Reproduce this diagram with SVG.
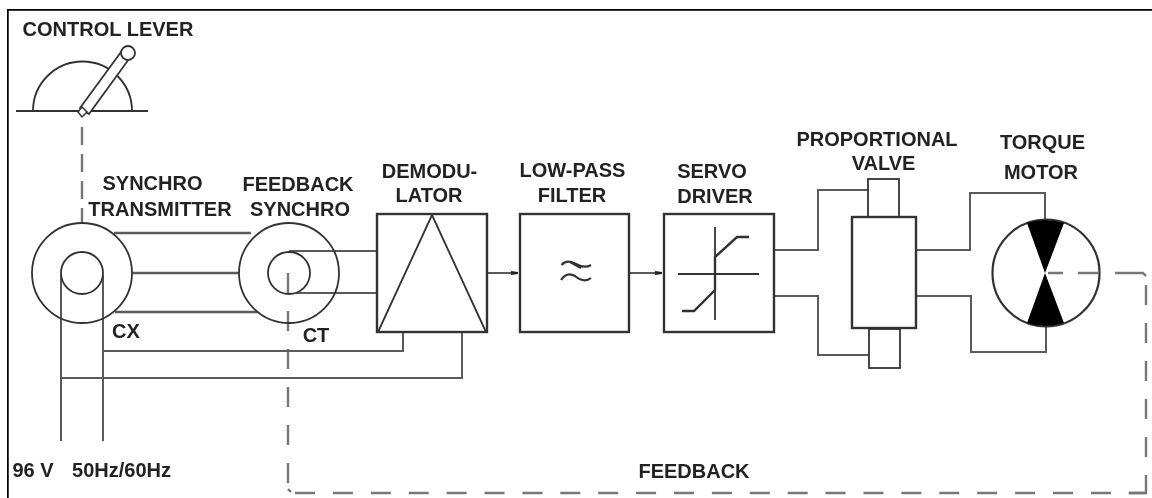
<svg xmlns="http://www.w3.org/2000/svg" width="1152" height="498" viewBox="0 0 1152 498">
<style>
text{font-family:"Liberation Sans",Arial,sans-serif;font-weight:700;font-size:20px;fill:#222;text-anchor:middle}
.s{fill:none;stroke:#333;stroke-width:1.8}
.w{fill:none;stroke:#5a5a5a;stroke-width:2}
.t{fill:none;stroke:#5a5a5a;stroke-width:2.600}
.b{fill:#fff;stroke:#333;stroke-width:2.400}
.d{fill:none;stroke:#777;stroke-width:2.400}
</style>
<defs>
<filter id="soft" x="0" y="0" width="100%" height="100%"><feGaussianBlur stdDeviation="0.700"/></filter>
<marker id="dot" markerWidth="8" markerHeight="6" refX="7" refY="3" orient="auto" markerUnits="userSpaceOnUse"><path d="M0 1L7 2V4L0 5Z" fill="#222"/></marker>
</defs>
<rect width="1152" height="498" fill="#fff"/>
<g filter="url(#soft)">
<path d="M7.500 498V9.500H1152" fill="none" stroke="#000" stroke-width="2.500"/>
<g id="connectors">
<path class="d" stroke-dasharray="18 9" d="M82 127V222"/>
<path class="d" stroke-dasharray="20 18" d="M288 273V483"/>
<path class="d" d="M288 489L291 492"/>
<path class="d" stroke-dasharray="20 17.900" d="M295 493H1146"/>
<path class="d" d="M1128.800 493H1146V475"/>
<path class="d" stroke-dasharray="20 18" d="M1146 457V275"/>
<path class="d" d="M1146 276L1143 273H1115M1098 273H1078M1063 273H1048"/>
<path class="t" d="M114 233H251M132 273H239M115 312H258"/>
<path class="w" d="M61 275V441M103 275V441M103 351H403V332M61 378H462V332"/>
<path class="w" d="M289 251H378M296 293H378"/>
<path class="w" d="M486 273H518" marker-end="url(#dot)"/>
<path class="w" d="M630 273H662" marker-end="url(#dot)"/>
<path class="w" d="M774 250H818V190H868M774 296H818V355H869M916 250H970V193H1045V222M916 296H971V352H1046V325"/>
</g>
<g id="lever">
<path class="s" d="M33 111A49.500 49.500 0 0 1 132 111M16 111H148"/>
<path d="M80 108L121 52L129 59L89 114Z" fill="#fff" stroke="#333" stroke-width="1.800"/>
<circle cx="128" cy="53" r="7" fill="#fff" stroke="#333" stroke-width="1.800"/>
<path d="M82 107L87 112L82 117L78 112Z" fill="#fff" stroke="#333" stroke-width="1.500"/>
<text x="108" y="36">CONTROL LEVER</text>
</g>
<g id="synchro-transmitter">
<circle class="s" cx="82" cy="273" r="50"/>
<circle class="s" cx="82" cy="273" r="21"/>
<text x="152.500" y="190">SYNCHRO</text><text x="160" y="216">TRANSMITTER</text>
<text x="126" y="338">CX</text>
</g>
<g id="feedback-synchro">
<circle class="s" cx="289" cy="273" r="50"/>
<circle class="s" cx="289" cy="273" r="21"/>
<text x="298" y="191">FEEDBACK</text><text x="300" y="216">SYNCHRO</text>
<text x="316" y="342">CT</text>
</g>
<g id="demodulator">
<rect class="b" x="377" y="214" width="110" height="118"/>
<path class="s" d="M378 332L432 215L486 332"/>
<text x="429.500" y="178">DEMODU-</text><text x="429" y="202">LATOR</text>
</g>
<g id="low-pass-filter">
<rect class="b" x="520" y="214" width="109" height="118"/>
<path d="M561.500 265C565 261 570 261 575 263.500C581 267 586 268 591 265M561 280C565 274 570 273 575 276C581 281 586 282 591 278M570 262L581 268" fill="none" stroke="#333" stroke-width="2.200"/>
<text x="572.500" y="177">LOW-PASS</text><text x="572" y="202">FILTER</text>
</g>
<g id="servo-driver">
<rect class="b" x="664" y="214" width="110" height="118"/>
<path class="s" d="M678 274H759M715 227V320"/>
<path d="M682 311H694L715 290V257L737 237H749" fill="none" stroke="#333" stroke-width="2.400"/>
<text x="712" y="178">SERVO</text><text x="715" y="203">DRIVER</text>
</g>
<g id="proportional-valve">
<rect class="s" x="868" y="179" width="31" height="38"/>
<rect class="s" x="869" y="329" width="31" height="39"/>
<rect class="b" x="852" y="217" width="64" height="111"/>
<text x="877" y="146">PROPORTIONAL</text><text x="883.500" y="170">VALVE</text>
</g>
<g id="torque-motor">
<circle cx="1046" cy="273" r="53.500" fill="none" stroke="#333" stroke-width="2.200"/>
<path d="M1027 223Q1045 217 1064 223L1045 273L1027 323Q1045 329 1064 323L1045 273Z" fill="#000"/>
<text x="1042.500" y="149">TORQUE</text><text x="1041" y="179">MOTOR</text>
</g>
<text x="694" y="478">FEEDBACK</text>
<text x="33" y="477">96 V</text>
<text x="121.500" y="477">50Hz/60Hz</text>
</g>
</svg>
